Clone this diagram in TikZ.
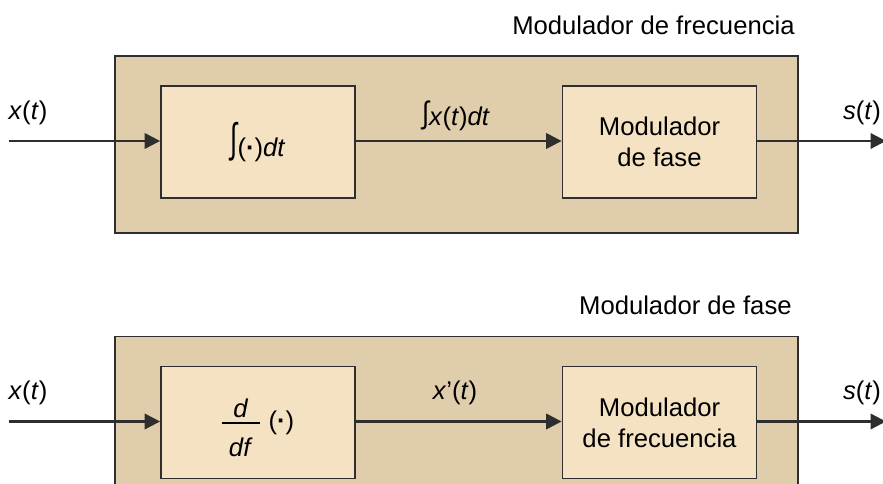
\documentclass[tikz,border=0pt]{standalone}
\usepackage{fontspec}
\setmainfont{Liberation Sans}
\usepackage{graphicx}
\usepackage{tikz}
\usetikzlibrary{arrows.meta,positioning}
\definecolor{Tan}{HTML}{DFCDAB}
\definecolor{Cream}{HTML}{F4E2C2}
\definecolor{Ink}{HTML}{2E2E2E}
\newcommand{\sigfont}{\fontsize{14.6}{17.5}\selectfont}
\newcommand{\sigdot}{(\textbf{·})}
\newcommand{\bigint}{\raisebox{2.2pt}{\scalebox{1}[1.6]{∫}}}
\newcommand{\midint}{\raisebox{0.8pt}{\scalebox{1}[1.2]{∫}}}
\newcommand{\derivfrac}{\raisebox{-4.4pt}[0pt][0pt]{\begin{tabular}{@{}c@{}}\textit{d}\\[-13.4pt]\rule{0.76cm}{1.3pt}\\[0.6pt]\textit{df}\end{tabular}}}
\tikzset{
  sigarrow/.style={-{Triangle[length=3.1mm,width=3.1mm]}, line width=1.3pt, draw=Ink},
  outerbox/.style={draw=Ink, fill=Tan, line width=1.05pt, minimum width=13.66cm, minimum height=3.54cm, inner sep=0pt},
  blocknode/.style={draw=Ink, fill=Cream, line width=1.05pt, minimum width=3.88cm, minimum height=2.24cm, align=center, inner sep=0pt, font=\sigfont},
  siglabel/.style={font=\sigfont, inner sep=0pt},
  titlelabel/.style={font=\sigfont, inner sep=0pt, anchor=east},
}

\begin{document}
\begin{tikzpicture}[x=1cm,y=1cm]
\path[use as bounding box] (0,0) rectangle (17.66,9.68);

% frequency modulator built from a phase modulator
\node[titlelabel] (fmtitle) at (15.90,9.18) {Modulador de frecuencia};
\node[outerbox] (fmbox) at (9.13,6.79) {};
\node[blocknode] (integ) at (5.16,6.84) {\bigint\sigdot\textit{dt}};
\node[blocknode] (pm) at (13.19,6.84) {Modulador\\de fase};
\coordinate (fmin) at (0.18,6.86);
\coordinate (fmout) at (17.72,6.86);
\draw[sigarrow] (fmin) -- (fmin -| integ.west);
\draw[sigarrow] (integ.east |- fmin) -- (fmin -| pm.west);
\draw[sigarrow] (pm.east |- fmin) -- (fmout);
\node[siglabel] (fmx) at (0.56,7.42) {\textit{x}(\textit{t})};
\node[siglabel] (fmint) at (9.12,7.36) {\midint\textit{x}(\textit{t})\textit{dt}};
\node[siglabel] (fms) at (17.24,7.42) {\textit{s}(\textit{t})};

% phase modulator built from a frequency modulator
\node[titlelabel] (pmtitle) at (15.84,3.58) {Modulador de fase};
\node[outerbox] (pmbox) at (9.13,1.18) {};
\node[blocknode] (deriv) at (5.16,1.23) {\derivfrac\hspace{5pt}\sigdot};
\node[blocknode] (fm) at (13.19,1.23) {Modulador\\de frecuencia};
\coordinate (pmin) at (0.18,1.25);
\coordinate (pmout) at (17.72,1.25);
\draw[sigarrow] (pmin) -- (pmin -| deriv.west);
\draw[sigarrow] (deriv.east |- pmin) -- (pmin -| fm.west);
\draw[sigarrow] (fm.east |- pmin) -- (pmout);
\node[siglabel] (pmx) at (0.56,1.82) {\textit{x}(\textit{t})};
\node[siglabel] (pmder) at (9.10,1.82) {\textit{x}’(\textit{t})};
\node[siglabel] (pms) at (17.24,1.82) {\textit{s}(\textit{t})};
\end{tikzpicture}
\end{document}
